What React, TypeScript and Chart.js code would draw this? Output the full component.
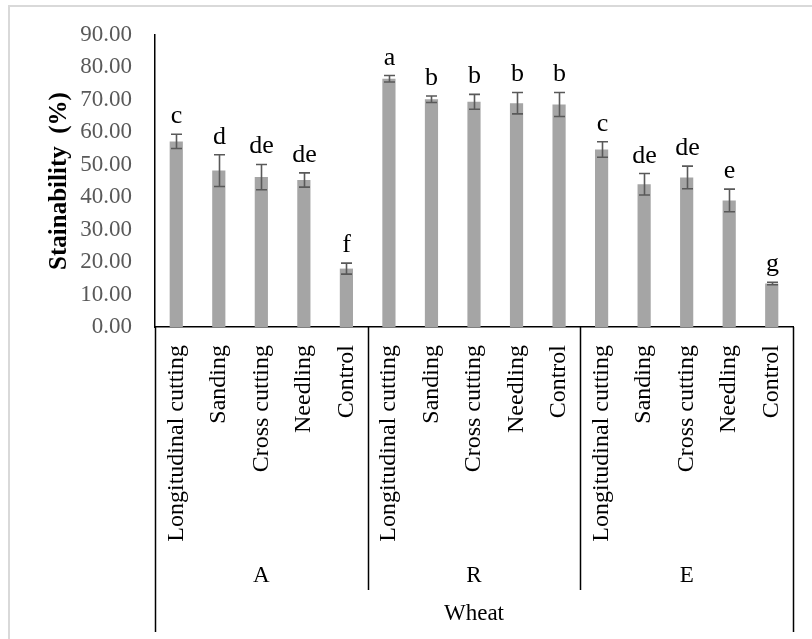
import React, { useEffect, useRef } from "react";
import { Chart, registerables } from "chart.js";
Chart.register(...registerables);

const groups = ["A", "R", "E"];
const treatments = ["Longitudinal cutting", "Sanding", "Cross cutting", "Needling", "Control"];
const categories = [
  "Longitudinal cutting", "Sanding", "Cross cutting", "Needling", "Control",
  "Longitudinal cutting", "Sanding", "Cross cutting", "Needling", "Control",
  "Longitudinal cutting", "Sanding", "Cross cutting", "Needling", "Control",
];
const means = [57.2, 48.2, 46.2, 45.3, 18.0, 76.5, 70.2, 69.4, 69.0, 68.6, 54.7, 44.0, 46.1, 39.0, 13.4];
const errors = [2.2, 4.9, 3.9, 2.2, 1.7, 1.0, 1.0, 2.3, 3.3, 3.7, 2.4, 3.3, 3.5, 3.5, 0.4];
const letters = ["c", "d", "de", "de", "f", "a", "b", "b", "b", "b", "c", "de", "de", "e", "g"];
const outerLabel = "Wheat";
const yTitle = "Stainability  (%)";
const yMin = 0;
const yMax = 90;
const yStep = 10;

const FONT = "'Liberation Serif', 'Times New Roman', serif";

const overlayPlugin = {
  id: "overlay",
  beforeDraw(chart: any) {
    const { ctx, width, height } = chart;
    ctx.save();
    ctx.fillStyle = "#d9d9d9";
    ctx.fillRect(8, 5, width - 8, 2);
    ctx.fillRect(8, 5, 2, height - 5);
    ctx.restore();
  },
  afterDatasetsDraw(chart: any) {
    const { ctx } = chart;
    const x = chart.scales.x;
    const y = chart.scales.y;
    ctx.save();
    ctx.strokeStyle = "#595959";
    ctx.lineWidth = 1.6;
    ctx.fillStyle = "#000";
    ctx.font = `26px ${FONT}`;
    ctx.textAlign = "center";
    ctx.textBaseline = "alphabetic";
    means.forEach((m, i) => {
      const cx = Math.round(x.getPixelForValue(i)) + 0.5;
      const yt = y.getPixelForValue(m + errors[i]);
      const yb = y.getPixelForValue(m - errors[i]);
      ctx.beginPath();
      ctx.moveTo(cx, yt);
      ctx.lineTo(cx, yb);
      ctx.moveTo(cx - 5.5, yt);
      ctx.lineTo(cx + 5.5, yt);
      ctx.moveTo(cx - 5.5, yb);
      ctx.lineTo(cx + 5.5, yb);
      ctx.stroke();
      ctx.fillText(letters[i], cx, yt - 11);
    });
    ctx.restore();
  },
  afterDraw(chart: any) {
    const { ctx } = chart;
    const x = chart.scales.x;
    const area = chart.chartArea;
    const n = treatments.length;
    const step = (area.right - area.left) / categories.length;
    ctx.save();
    ctx.strokeStyle = "#000";
    ctx.lineWidth = 1.5;
    const bottom = area.bottom;
    for (let g = 0; g <= groups.length; g++) {
      const px = Math.round(area.left + g * n * step) + 0.5;
      const outer = g === 0 || g === groups.length;
      ctx.beginPath();
      ctx.moveTo(px, bottom);
      ctx.lineTo(px, outer ? 632 : 590);
      ctx.stroke();
    }
    ctx.fillStyle = "#000";
    ctx.font = `23px ${FONT}`;
    ctx.textAlign = "center";
    ctx.textBaseline = "middle";
    groups.forEach((g, gi) => {
      const cx = (x.getPixelForValue(gi * n) + x.getPixelForValue(gi * n + n - 1)) / 2;
      ctx.fillText(g, cx, 576);
    });
    ctx.fillText(outerLabel, (area.left + area.right) / 2, 614);
    ctx.restore();
  },
};

export default function App() {
  const ref = useRef<HTMLCanvasElement | null>(null);
  useEffect(() => {
    if (!ref.current) return;
    const chart = new Chart(ref.current, {
      type: "bar",
      data: {
        labels: categories,
        datasets: [
          {
            data: means,
            backgroundColor: "#a5a5a5",
            barPercentage: 0.31,
            categoryPercentage: 1,
          },
        ],
      },
      options: {
        animation: false,
        responsive: true,
        maintainAspectRatio: false,
        layout: { padding: { top: 35, right: 19, bottom: 0, left: 0 } },
        plugins: { legend: { display: false }, tooltip: { enabled: false } },
        scales: {
          x: {
            grid: { display: false },
            border: { display: true, color: "#000", width: 1.5 },
            ticks: {
              autoSkip: false,
              minRotation: 90,
              maxRotation: 90,
              color: "#000",
              padding: 10,
              font: { family: FONT, size: 24 },
            },
            afterFit(scale: any) {
              scale.height = 312;
            },
          },
          y: {
            min: yMin,
            max: yMax,
            grid: { display: false },
            border: { display: true, color: "#000", width: 1.5 },
            ticks: {
              stepSize: yStep,
              color: "#595959",
              padding: 15,
              font: { family: FONT, size: 23 },
              callback: (v: any) => Number(v).toFixed(2),
            },
            title: {
              display: true,
              text: yTitle,
              color: "#000",
              font: { family: FONT, size: 25, weight: "bold" },
              padding: { top: 45, bottom: 0 },
            },
            afterFit(scale: any) {
              scale.width = 155;
            },
          },
        },
      },
      plugins: [overlayPlugin],
    });
    return () => chart.destroy();
  }, []);
  return (
    <div style={{ position: "fixed", left: 0, top: 0, width: 812, height: 639, background: "#fff" }}>
      <canvas ref={ref} />
    </div>
  );
}
